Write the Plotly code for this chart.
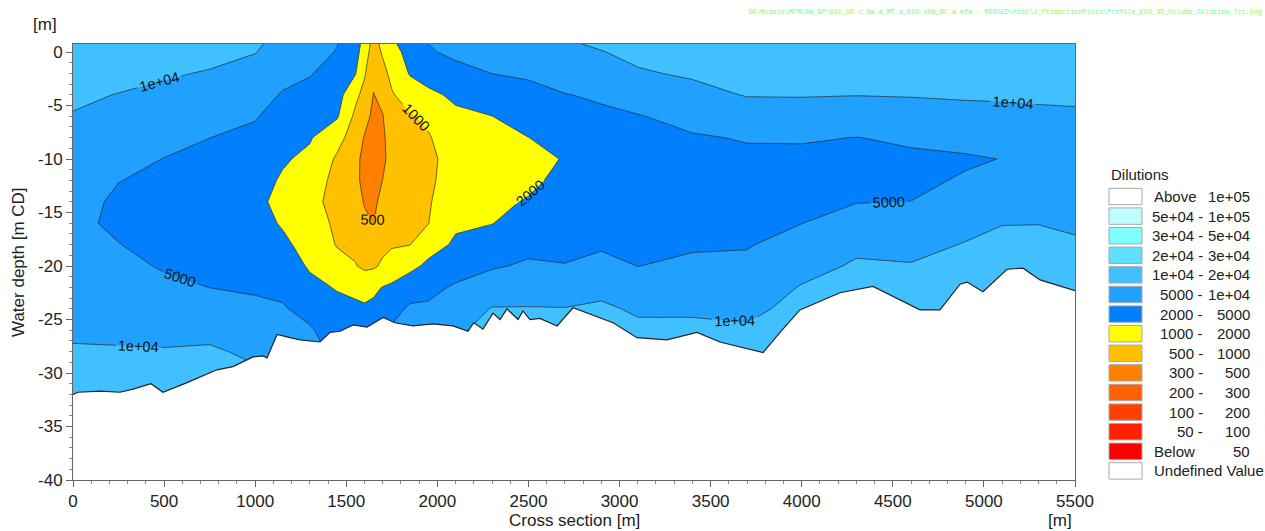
import numpy as np
import plotly.graph_objects as go

# ---------------- data ----------------
section_x = [0, 250, 500, 750, 1000, 1150, 1300, 1450, 1550, 1600, 1650, 1700, 1750, 1850,
             1950, 2100, 2300, 2500, 2700, 2900, 3100, 3400, 3700, 4000, 4300, 4600, 4900,
             5100, 5300, 5500]
depth_z = [1, 0, -2, -4, -6, -8, -10, -12, -14, -16, -18, -20, -22, -24, -26, -28, -30, -32, -34]

# dilution profiles (top -> bottom) at each station of section_x
dilution_profiles = [
    [14000, 13400, 12000, 10850, 9750, 8770, 7900, 7070, 6370, 5740, 6330, 6980, 7690, 8530, 9390, 10400, 11700, 13200, 14100],
    [14600, 13550, 11550, 9860, 8350, 7070, 5990, 5070, 4320, 4320, 5070, 5870, 6780, 7850, 9080, 10400, 11800, 13400, 15150],
    [13660, 12570, 10640, 8830, 7270, 5950, 4920, 4240, 3650, 3600, 3930, 4650, 5670, 6980, 8650, 10350, 11650, 13200, 15150],
    [13200, 11900, 9590, 7740, 6200, 5020, 4120, 3370, 2790, 2790, 3370, 4120, 4980, 6600, 8700, 10700, 12300, 14100, 16200],
    [10900, 10200, 8000, 6460, 5210, 4190, 3370, 2730, 2400, 2630, 3160, 3800, 4560, 5630, 7170, 9080, 10700, 12300, 14100],
    [8700, 7680, 6030, 4700, 3680, 2840, 2190, 1870, 1700, 1900, 2340, 3090, 4160, 5290, 6240, 7380, 8700, 9000, 9330],
    [7070, 6370, 5180, 3930, 2890, 2150, 1750, 1460, 1230, 1410, 1620, 1870, 2470, 3800, 5360, 6370, 7580, 8120, 8700],
    [5180, 4790, 3710, 2840, 2190, 1250, 914, 806, 796, 877, 960, 1275, 1920, 2520, 3220, 3970, 4160, 4330, 4560],
    [3470, 2940, 2100, 1170, 871, 727, 607, 595, 678, 774, 883, 1030, 1720, 2360, 2990, 3800, 4160, 4330, 4560],
    [1520, 1350, 1070, 818, 620, 485, 431, 431, 481, 582, 722, 896, 1510, 2290, 2810, 3470, 3800, 4160, 4560],
    [812, 732, 590, 492, 452, 413, 378, 413, 454, 497, 668, 914, 1770, 2400, 2890, 3470, 3800, 4160, 4560],
    [1230, 1080, 824, 624, 489, 452, 454, 505, 599, 717, 859, 1110, 2060, 2450, 2900, 3470, 3800, 4160, 4560],
    [1870, 1600, 1180, 946, 830, 727, 637, 702, 774, 853, 946, 1280, 2340, 3860, 5360, 6160, 7070, 7580, 8120],
    [2890, 2610, 2140, 1360, 946, 841, 748, 742, 818, 908, 990, 1670, 3490, 5470, 6420, 7480, 8700, 9330, 9600],
    [5100, 4600, 2810, 1750, 1140, 946, 877, 871, 933, 985, 1530, 2400, 4060, 5470, 6420, 7480, 8700, 9330, 9600],
    [6600, 5700, 3840, 2320, 1780, 1500, 1270, 1430, 1620, 1830, 2250, 3560, 5360, 7070, 9330, 10350, 11500, 12300, 13200],
    [7070, 6290, 5020, 3130, 1990, 1730, 1520, 1520, 1730, 1970, 2970, 4560, 7170, 10300, 11500, 12700, 14100, 14600, 15200],
    [6830, 6290, 5360, 4080, 2840, 1990, 1740, 1770, 2140, 2900, 3970, 5470, 7740, 10300, 11500, 12700, 14100, 14600, 15200],
    [9660, 8650, 6500, 4870, 3710, 2730, 2070, 2470, 2930, 3520, 4190, 5100, 7270, 10200, 11500, 12700, 14100, 14600, 15200],
    [11100, 9800, 7270, 5400, 4380, 3750, 3130, 2630, 3160, 3830, 4520, 5950, 8770, 10800, 12100, 13600, 15200, 15700, 16200],
    [12300, 11400, 9460, 6500, 4820, 4270, 3800, 3370, 3370, 3830, 4360, 4960, 6780, 9390, 11000, 12500, 14100, 15200, 16200],
    [13200, 12300, 10700, 8410, 5950, 4690, 4120, 3630, 3460, 3970, 4610, 5550, 7220, 9390, 11000, 12500, 14100, 15200, 16200],
    [14100, 13300, 11650, 10300, 7480, 5180, 4380, 3830, 3590, 4120, 4730, 5700, 7170, 8950, 10600, 11800, 13200, 14100, 15200],
    [14100, 13300, 11700, 10350, 7630, 5210, 4380, 3860, 4310, 4960, 6370, 8300, 10350, 11500, 12700, 14100, 14600, 15200, 15700],
    [14100, 13200, 11600, 10150, 7120, 4960, 4320, 4190, 4870, 6460, 8950, 10650, 11700, 12800, 14100, 14600, 15200, 15700, 16200],
    [14100, 13300, 11700, 10350, 7630, 5290, 4600, 4380, 5020, 6500, 8410, 10350, 11500, 12700, 14100, 14600, 15200, 15700, 16200],
    [14100, 13300, 11800, 10500, 8700, 5950, 4630, 5250, 6650, 8410, 10300, 11400, 12700, 14100, 14600, 15200, 15700, 16200, 16500],
    [14100, 13400, 11900, 10650, 8770, 6600, 5050, 6290, 7900, 9860, 11200, 12600, 14100, 14600, 15200, 15700, 16200, 16500, 16800],
    [14100, 13400, 11900, 10650, 9270, 7850, 6600, 7580, 8650, 9930, 10950, 12000, 13200, 13900, 14500, 15000, 15500, 16000, 16300],
    [14100, 13400, 12000, 10700, 9460, 8350, 7320, 7690, 8530, 9530, 10400, 11250, 12100, 13200, 13900, 14500, 15000, 15500, 16000],
]

# seabed (bathymetry) along the section
seabed_x = [0, 27, 148, 258, 330, 428, 494, 626, 790, 878, 988, 1043, 1065, 1120, 1191, 1246, 1356,
            1411, 1466, 1537, 1614, 1702, 1767, 1866, 1976, 2086, 2168, 2200, 2250, 2305, 2344,
            2382, 2443, 2470, 2508, 2563, 2657, 2745, 2964, 3096, 3260, 3370, 3425, 3551, 3788,
            3881, 3990, 4210, 4391, 4649, 4759, 4869, 4907, 4995, 5127, 5215, 5308, 5500]
seabed_z = [-32.0, -31.8, -31.7, -31.8, -31.5, -31.0, -31.8, -30.9, -29.7, -29.4, -28.5, -28.4, -28.6,
            -26.4, -26.7, -26.9, -27.1, -26.2, -26.1, -25.5, -25.7, -24.8, -25.3, -25.6, -25.4, -25.6,
            -26.1, -25.3, -25.9, -24.4, -25.0, -24.0, -25.0, -24.2, -25.0, -24.9, -25.6, -23.9, -25.3,
            -26.7, -26.9, -26.4, -26.2, -27.1, -28.1, -26.2, -24.1, -22.5, -21.9, -24.1, -24.1, -21.7,
            -21.5, -22.4, -20.3, -20.2, -21.3, -22.3]

level_bounds = [50, 100, 200, 300, 500, 1000, 2000, 5000, 10000, 20000, 30000, 50000, 100000]
level_labels = ["50", "100", "200", "300", "500", "1000", "2000", "5000",
                "1e+04", "2e+04", "3e+04", "5e+04", "1e+05"]
# band colours: below 50 ... above 1e+05
band_colors = ["#FF0000", "#FF2000", "#FF4000", "#FF6000", "#FF8000", "#FFC000", "#FFFF00",
               "#0080FF", "#20A0FF", "#40C0FF", "#60E0FF", "#80FFFF", "#C0FFFF", "#FFFFFF"]
legend_rows = [("Above", "1e+05"), ("5e+04 -", "1e+05"), ("3e+04 -", "5e+04"), ("2e+04 -", "3e+04"),
               ("1e+04 -", "2e+04"), ("5000 -", "1e+04"), ("2000 -", "5000"), ("1000 -", "2000"),
               ("500 -", "1000"), ("300 -", "500"), ("200 -", "300"), ("100 -", "200"),
               ("50 -", "100"), ("Below", "50"), ("Undefined Value", "")]
legend_colors = band_colors[::-1] + ["#FFFFFF"]

x_range = [0, 5500]
y_range = [-40, 0.75]
x_tick_vals = [0, 500, 1000, 1500, 2000, 2500, 3000, 3500, 4000, 4500, 5000, 5500]
x_tick_text = ["0", "500", "1000", "1500", "2000", "2500", "3000", "3500", "4000", "4500", "5000", "5500"]
y_tick_vals = [0, -5, -10, -15, -20, -25, -30, -35, -40]
y_tick_text = ["0", "-5", "-10", "-15", "-20", "-25", "-30", "-35", "-40"]

path_text = r"SK\Models\MFM\09_GP\02c_HD.c_SW.a_MT.a_ECO.x5b_BC.a.mfm - MERGED\Post\z_ProductionPlots\Profile_ECO_3D_Volume_Dilution_Trc.png"

# ---------------- figure ----------------
FONT = "Liberation Sans, Arial, sans-serif"
W, H = 1265, 531
PL, PR, PT, PB = 73, 1075, 44, 480


def px(xp):
    return (xp - PL) / (PR - PL)


def py(yp):
    return (PB - yp) / (PB - PT)


z = np.array(dilution_profiles, dtype=float).T  # rows = depth, cols = stations
zi = np.interp(np.log10(z), np.log10(level_bounds), np.arange(len(level_bounds)))
yv = np.array(depth_z, dtype=float)[::-1]
zi = zi[::-1, :]

nb = len(band_colors)
colorscale = [[i / (nb - 1), c] for i, c in enumerate(band_colors)]

fig = go.Figure()
fig.add_trace(go.Contour(
    x=section_x, y=yv, z=zi,
    autocontour=False,
    contours=dict(start=0, end=len(level_bounds) - 1, size=1, coloring="fill",
                  showlines=True, showlabels=True,
                  labelfont=dict(family=FONT, size=14.5, color="#111")),
    line=dict(color="rgba(35,35,35,0.85)", width=0.8, smoothing=0),
    colorscale=colorscale,
    showscale=True,
    # off-canvas colour bar: only used so the contour labels read 1e+04, 5000, ...
    colorbar=dict(tickmode="array", tickvals=list(range(len(level_bounds))), ticktext=level_labels,
                  thickness=0, len=0.02, x=-2, y=-2, outlinewidth=0, ticks="",
                  tickfont=dict(size=1, color="rgba(0,0,0,0)"), bgcolor="rgba(0,0,0,0)",
                  borderwidth=0, xpad=0, ypad=0),
    hoverinfo="skip",
))

# seabed (white land below)
fig.add_trace(go.Scatter(
    x=seabed_x + [x_range[1], x_range[0]], y=seabed_z + [y_range[0], y_range[0]],
    fill="toself", fillcolor="white", mode="lines", line=dict(width=0),
    hoverinfo="skip", showlegend=False))
fig.add_trace(go.Scatter(
    x=seabed_x, y=seabed_z, mode="lines", line=dict(color="#222", width=1.2),
    hoverinfo="skip", showlegend=False))

axis_common = dict(ticks="outside", ticklen=6, tickcolor="#666", showline=True, linecolor="#666",
                   linewidth=1, mirror=True, showgrid=False, zeroline=False,
                   tickfont=dict(family=FONT, size=17, color="#222"))
fig.update_xaxes(range=x_range, tickmode="array", tickvals=x_tick_vals, ticktext=x_tick_text,
                 minor=dict(tickmode="linear", tick0=0, dtick=100, ticklen=3, ticks="outside",
                            tickcolor="#888"), **axis_common)
fig.update_yaxes(range=y_range, tickmode="array", tickvals=y_tick_vals, ticktext=y_tick_text,
                 minor=dict(tickmode="linear", tick0=0, dtick=1, ticklen=3, ticks="outside",
                            tickcolor="#888"), **axis_common)

annotations = []
shapes = []


def ann(text, xp, yp, xanchor="center", size=17, angle=0, color="#222", family=FONT):
    annotations.append(dict(text=text, x=px(xp), y=py(yp), xref="paper", yref="paper",
                            xanchor=xanchor, yanchor="middle", showarrow=False, textangle=angle,
                            font=dict(family=family, size=size, color=color)))


ann("[m]", 45, 25)
ann("Water depth [m CD]", 18, 262, angle=-90)
ann("Cross section [m]", 574, 520)
ann("[m]", 1060, 520)
ann(path_text, 1264, 12, xanchor="right", size=6.8, color="#70FF70",
    family="Liberation Mono, DejaVu Sans Mono, monospace")

# legend
ann("Dilutions", 1109, 174, xanchor="left", size=15)
row0, step = 196.5, 19.6
for i, ((left, right), col) in enumerate(zip(legend_rows, legend_colors)):
    cy = row0 + i * step
    shapes.append(dict(type="rect", xref="paper", yref="paper", x0=px(1109), x1=px(1142),
                       y0=py(cy + 8.2), y1=py(cy - 8.2), fillcolor=col,
                       line=dict(color="#A8A8A8", width=1)))
    if left in ("Above", "Below", "Undefined Value"):
        ann(left, 1152, cy, xanchor="left", size=15)
    else:
        ann(left, 1205, cy, xanchor="right", size=15)
    if right:
        ann(right, 1252, cy, xanchor="right", size=15)

fig.update_layout(width=W, height=H,
                  margin=dict(l=PL, r=W - PR, t=PT, b=H - PB, autoexpand=False),
                  paper_bgcolor="white", plot_bgcolor="white", showlegend=False,
                  font=dict(family=FONT, size=17, color="#222"),
                  annotations=annotations, shapes=shapes)

fig.write_html("out.html", config={"displayModeBar": False},
               post_script="document.body.style.margin='0px';document.body.style.overflow='hidden';")
